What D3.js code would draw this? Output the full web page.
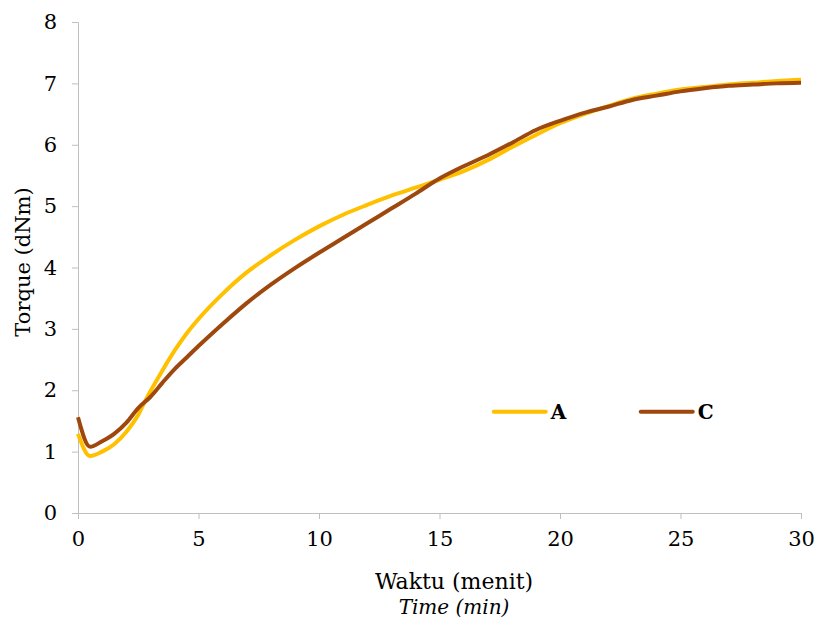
<!DOCTYPE html>
<html>
<head>
<meta charset="utf-8">
<script src="https://cdn.jsdelivr.net/npm/d3@7"></script>
<style>
  body { margin: 0; background: #fff; }
  text { font-family: "DejaVu Serif", serif; fill: #000; }
  .tick line, .domain { stroke: #bfbfbf; }
</style>
</head>
<body>
<svg width="816" height="625"></svg>
<script>
  const timeA = [0, 0.5, 1, 1.5, 2, 2.5, 2.77, 3, 3.5, 4, 4.5, 5, 6, 7, 8, 9, 10, 11, 12, 13, 14, 15, 16, 17, 18, 19, 20, 21, 22, 23, 24, 25, 26, 27, 28, 29, 30];
  const seriesA = [1.29, 0.93, 1.00, 1.12, 1.32, 1.60, 1.81, 1.98, 2.32, 2.64, 2.92, 3.16, 3.57, 3.92, 4.2, 4.45, 4.67, 4.86, 5.02, 5.17, 5.3, 5.43, 5.57, 5.75, 5.96, 6.16, 6.35, 6.5, 6.63, 6.75, 6.83, 6.9, 6.94, 6.98, 7.01, 7.04, 7.06];
  const timeC = [0, 0.5, 1, 1.5, 2, 2.5, 3, 3.5, 4, 4.5, 5, 6, 7, 8, 9, 10, 11, 12, 13, 14, 15, 16, 17, 18, 19, 20, 21, 22, 23, 24, 25, 26, 27, 28, 29, 30];
  const seriesC = [1.56, 1.08, 1.17, 1.29, 1.47, 1.71, 1.89, 2.12, 2.34, 2.53, 2.72, 3.08, 3.42, 3.72, 3.99, 4.24, 4.48, 4.72, 4.96, 5.2, 5.45, 5.65, 5.83, 6.03, 6.24, 6.39, 6.52, 6.62, 6.73, 6.8, 6.87, 6.92, 6.96, 6.98, 7.0, 7.01];
  const xTicks = [0, 5, 10, 15, 20, 25, 30];
  const yTicks = [0, 1, 2, 3, 4, 5, 6, 7, 8];
  const names = ['A', 'C'];
  const colors = ['#ffc000', '#9e480e'];

  const svg = d3.select('svg');
  const margin = { top: 22, left: 78, right: 15, bottom: 112 };
  const height = +svg.attr('height');
  const innerWidth = 801 - margin.left;
  const innerHeight = height - margin.top - margin.bottom;

  const xScale = d3.scaleLinear().domain([0, 30]).range([0, innerWidth]);
  const yScale = d3.scaleLinear().domain([0, 8]).range([innerHeight, 0]);

  const g = svg.append('g')
    .attr('transform', `translate(${margin.left},${margin.top})`);

  const xAxisG = g.append('g')
    .attr('transform', `translate(0,${innerHeight})`)
    .call(d3.axisBottom(xScale).tickValues(xTicks).tickSize(6).tickPadding(12).tickSizeOuter(6));
  xAxisG.selectAll('text').style('font-size', '21px');

  const yAxisG = g.append('g')
    .call(d3.axisLeft(yScale).tickValues(yTicks).tickSize(6).tickPadding(15).tickSizeOuter(6));
  yAxisG.selectAll('text').style('font-size', '21px');

  const line = d3.line()
    .x(d => xScale(d[0]))
    .y(d => yScale(d[1]))
    .curve(d3.curveMonotoneX);

  const data = [
    d3.zip(timeA, seriesA),
    d3.zip(timeC, seriesC)
  ];

  data.forEach((pts, i) => {
    g.append('path')
      .attr('d', line(pts))
      .attr('fill', 'none')
      .attr('stroke', colors[i])
      .attr('stroke-width', 4)
      .attr('stroke-linejoin', 'round');
  });

  // legend
  const legendX = [xScale(17.25), xScale(23.35)];
  const legendY = yScale(1.65);
  names.forEach((n, i) => {
    g.append('line')
      .attr('x1', legendX[i]).attr('x2', legendX[i] + 52)
      .attr('y1', legendY).attr('y2', legendY)
      .attr('stroke', colors[i])
      .attr('stroke-width', 4)
      .attr('stroke-linecap', 'round');
    g.append('text')
      .attr('x', legendX[i] + 57)
      .attr('y', legendY + 7)
      .style('font-size', '20px')
      .style('font-weight', 'bold')
      .text(n);
  });

  // axis titles
  svg.append('text')
    .attr('x', 454)
    .attr('y', 589)
    .attr('text-anchor', 'middle')
    .style('font-size', '22px')
    .text('Waktu (menit)');
  svg.append('text')
    .attr('x', 454)
    .attr('y', 614)
    .attr('text-anchor', 'middle')
    .style('font-size', '20px')
    .style('font-style', 'italic')
    .text('Time (min)');
  svg.append('text')
    .attr('transform', 'translate(30,262) rotate(-90)')
    .attr('text-anchor', 'middle')
    .style('font-size', '21px')
    .text('Torque (dNm)');
</script>
</body>
</html>
